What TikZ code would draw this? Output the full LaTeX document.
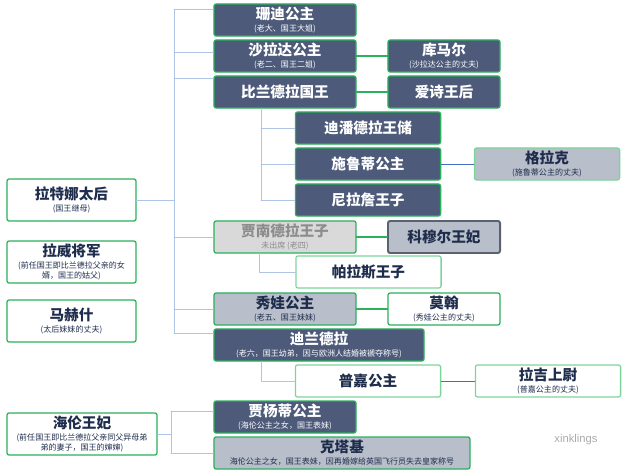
\documentclass[tikz,border=0pt]{standalone}
\usepackage{fontspec}
\setmainfont{Noto Sans CJK SC}
\newfontfamily\markfont{Liberation Sans}
\usetikzlibrary{positioning}
\definecolor{knavy}{RGB}{77,90,121}
\definecolor{kgrey}{RGB}{184,190,202}
\definecolor{kfaded}{RGB}{217,217,217}
\definecolor{kfadetext}{RGB}{140,140,140}
\definecolor{kink}{RGB}{31,45,77}
\definecolor{kgreen}{RGB}{44,176,92}
\definecolor{kpale}{RGB}{125,212,155}
\definecolor{kline}{RGB}{176,196,230}
\definecolor{kblue}{RGB}{70,112,190}
\definecolor{kedge}{RGB}{90,98,112}
\definecolor{kwater}{RGB}{170,170,170}

\newcommand{\kintitle}[1]{{\fontsize{10.4}{11}\selectfont\bfseries #1}}
\newcommand{\kinnote}[1]{\\[1.5pt]#1}

\begin{document}
\begin{tikzpicture}[
x=0.025cm,y=-0.025cm,
line join=round,line cap=round,
box/.style={rectangle,draw=kgreen,line width=0.9pt,rounded corners=1.5pt,
align=center,inner sep=1pt,minimum width=3.55cm,minimum height=0.8cm,
font=\fontsize{5.7}{7}\selectfont},
dark/.style={box,fill=knavy,text=white},
grey/.style={box,fill=kgrey,text=kink},
plain/.style={box,fill=white,text=kink},
pale/.style={box,fill=white,draw=kpale,text=kink},
faded/.style={box,fill=kfaded,text=kfadetext},
narrow/.style={minimum width=2.8cm},
wide/.style={minimum width=3.63cm},
side/.style={minimum width=3.225cm,minimum height=1.05cm},
kin/.style={draw=kline,line width=0.7pt},
tie/.style={draw=kgreen,line width=1.4pt},
link/.style={draw=kblue,line width=0.7pt}
]
\useasboundingbox (0,0) rectangle (626,474);

% left column
\node [plain,side]            (ratna)     at (71.5,200) {\kintitle{拉特娜太后}\kinnote{(国王继母)}};
\node [plain,side]            (rabi)      at (71.5,262) {\kintitle{拉威将军}\kinnote{(前任国王即比兰德拉父亲的女\\婿，国王的姑父)}};
\node [plain,side]            (mahesh)    at (71.5,321) {\kintitle{马赫什}\kinnote{(太后妹妹的丈夫)}};
\node [plain,side,minimum width=3.75cm] (helen) at (82,434) {\kintitle{海伦王妃}\kinnote{(前任国王即比兰德拉父亲同父异母弟\\弟的妻子，国王的婶婶)}};

% children of the queen mother's generation
\node [dark]                  (sandi)     at (285,20)  {\kintitle{珊迪公主}\kinnote{(老大、国王大姐)}};
\node [dark]                  (sharada)   at (285,56)  {\kintitle{沙拉达公主}\kinnote{(老二、国王二姐)}};
\node [dark,narrow]           (kumar)     at (444,56)  {\kintitle{库马尔}\kinnote{(沙拉达公主的丈夫)}};
\node [dark]                  (birendra)  at (285,92)  {\kintitle{比兰德拉国王}};
\node [dark,narrow]           (aishwarya) at (444,92)  {\kintitle{爱诗王后}};
\node [dark,wide]             (dipendra)  at (368,128) {\kintitle{迪潘德拉王储}};
\node [dark,wide]             (shruti)    at (368,164) {\kintitle{施鲁蒂公主}};
\node [grey,wide,draw=kpale]  (gorakh)    at (547,164) {\kintitle{格拉克}\kinnote{(施鲁蒂公主的丈夫)}};
\node [dark,wide]             (nirajan)   at (368,200) {\kintitle{尼拉詹王子}};
\node [faded]                 (gyanendra) at (285,237) {\kintitle{贾南德拉王子}\kinnote{未出席 (老四)}};
\node [grey,narrow,draw=kedge,line width=1.4pt] (komal) at (444,237) {\kintitle{科穆尔王妃}};
\node [pale,wide]             (paras)     at (368.5,272) {\kintitle{帕拉斯王子}};
\node [grey]                  (shobha)    at (285,309) {\kintitle{秀娃公主}\kinnote{(老五、国王妹妹)}};
\node [plain,narrow]          (mohan)     at (444,309) {\kintitle{莫翰}\kinnote{(秀娃公主的丈夫)}};
\node [dark,minimum width=5.25cm] (dhirendra) at (319,345) {\kintitle{迪兰德拉}\kinnote{(老六，国王幼弟，因与欧洲人结婚被褫夺称号)}};
\node [pale,wide]             (pooja)     at (368,381) {\kintitle{普嘉公主}};
\node [pale,wide]             (raj)       at (548,381) {\kintitle{拉吉上尉}\kinnote{(普嘉公主的丈夫)}};
\node [dark]                  (jayanti)   at (285,417) {\kintitle{贾杨蒂公主}\kinnote{(海伦公主之女，国王表妹)}};
\node [grey,minimum width=6.4cm] (ketaki) at (342,453) {\kintitle{克塔基}\kinnote{海伦公主之女，国王表妹，因再婚嫁给英国飞行员失去皇家称号}};

\node [text=kwater,font=\markfont\fontsize{8}{9}\selectfont] (mark) at (576,440) {xinklings};

% family lines
\coordinate (trunk) at (174,0);
\coordinate (kingline) at (261,0);
\coordinate (fourline) at (259,0);
\coordinate (sixline) at (261,0);
\coordinate (helenline) at (171,0);

\draw [kin] (ratna.east) -- (ratna.east -| trunk);
\draw [kin] ([yshift=0.275cm]trunk |- sandi) -- ([yshift=0.3cm]trunk |- dhirendra);
\draw [kin] ([yshift=0.275cm]trunk |- sandi) -- ([yshift=0.275cm]sandi.west);
\draw [kin] ([yshift=0.1cm]trunk |- sharada) -- ([yshift=0.1cm]sharada.west);
\draw [kin] ([yshift=0.35cm]trunk |- birendra) -- ([yshift=0.35cm]birendra.west);
\foreach \child in {gyanendra,shobha}
  \draw [kin] (trunk |- \child) -- (\child.west);
\draw [kin] ([yshift=0.3cm]trunk |- dhirendra) -- ([yshift=0.3cm]dhirendra.west);

\draw [kin] (kingline |- birendra.south) -- (kingline |- nirajan);
\foreach \child in {dipendra,shruti,nirajan}
  \draw [kin] (kingline |- \child) -- (\child.west);

\draw [kin] (fourline |- gyanendra.south) -- (fourline |- paras) -- (paras.west);
\draw [kin] (sixline |- dhirendra.south) -- (sixline |- pooja) -- (pooja.west);

\draw [kin] (helen.east) -- (helen.east -| helenline);
\draw [kin] ([yshift=0.15cm]helenline |- jayanti) -- (helenline |- ketaki);
\draw [kin] ([yshift=0.15cm]helenline |- jayanti) -- ([yshift=0.15cm]jayanti.west);
\draw [kin] (helenline |- ketaki) -- (ketaki.west);

% marriages
\draw [tie] (sharada) -- (kumar);
\draw [tie] (birendra) -- (aishwarya);
\draw [tie] (gyanendra) -- (komal);
\draw [tie] (shobha) -- (mohan);
\draw [link] (shruti) -- (gorakh);
\draw [link] (pooja) -- (raj);
\end{tikzpicture}
\end{document}
